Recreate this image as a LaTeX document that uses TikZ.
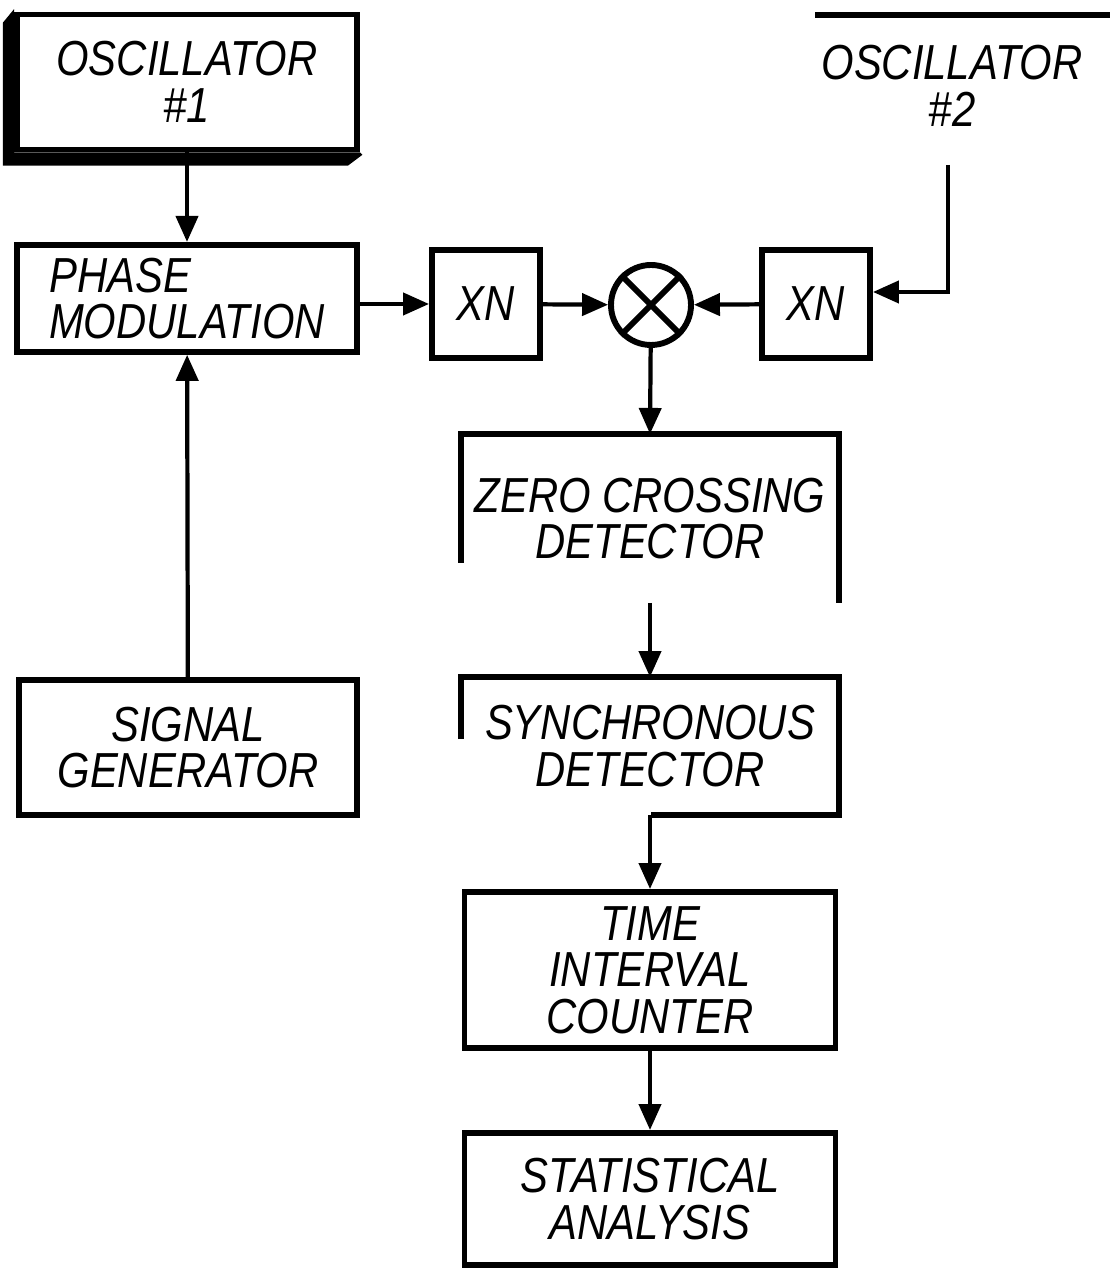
\documentclass[tikz,border=0pt]{standalone}
\usepackage{fontspec}
\setmainfont{Liberation Sans}[FakeStretch=0.85]
\usetikzlibrary{arrows.meta, positioning}

\begin{document}
\begin{tikzpicture}[
    box/.style={rectangle, draw, line width=4.2pt, align=center,
                font=\fontsize{35}{33}\selectfont\itshape, inner sep=0pt},
    mixer/.style={circle, draw, line width=4.2pt, minimum size=2cm, inner sep=0pt},
    arr/.style={-{Triangle[length=0.65cm, width=0.55cm]}, line width=3pt}
]
\useasboundingbox (0,0) rectangle (27.75,31.75);

% left column
\node[box, minimum width=8.5cm, minimum height=3.375cm] (osc1) at (4.675,29.7) {OSCILLATOR\\\#1};
\node[box, align=left, minimum width=8.5cm, minimum height=2.675cm] (phase) at (4.675,24.29) {PHASE\\MODULATION};
\node[box, minimum width=8.45cm, minimum height=3.375cm] (sig) at (4.7,13.06) {SIGNAL\\GENERATOR};

% shadow of oscillator 1
\fill ([yshift=0.06cm]osc1.north west) -- ([xshift=-0.28cm, yshift=-0.28cm]osc1.north west)
    -- ([xshift=-0.28cm, yshift=-0.33cm]osc1.south west) -- ([xshift=-0.3cm, yshift=-0.33cm]osc1.south east)
    -- ([xshift=0.06cm, yshift=-0.06cm]osc1.south east) -- (osc1.south east) -- (osc1.south west) -- cycle;

% multipliers and mixer
\node[box, minimum width=2.7cm, minimum height=2.7cm] (xn1) at (12.15,24.15) {XN};
\node[mixer] (mix) at (16.275,24.125) {};
\draw[line width=4.2pt] (mix.north west) -- (mix.south east);
\draw[line width=4.2pt] (mix.north east) -- (mix.south west);
\node[box, minimum width=2.7cm, minimum height=2.7cm] (xn2) at (20.4,24.15) {XN};

% oscillator 2
\node[box, draw=none] (osc2) at (23.8,29.6) {OSCILLATOR\\\#2};
\draw[line width=4.2pt] (20.375,31.375) -- (27.75,31.375);
\coordinate (o2out) at (23.7,27.625);

% right column
\node[box, draw=none, minimum width=9.3cm, minimum height=4.075cm] (zcd) at (16.25,18.79) {ZERO CROSSING\\DETECTOR};
\draw[line width=4.2pt] ([yshift=1cm]zcd.south west) -- (zcd.north west) -- (zcd.north east) -- (zcd.south east);
\node[box, draw=none, minimum width=9.3cm, minimum height=3.3cm] (sync) at (16.25,13.1) {SYNCHRONOUS\\DETECTOR};
\draw[line width=4.2pt] ([yshift=-1.55cm]sync.north west) -- (sync.north west) -- (sync.north east)
    -- (sync.south east) -- ([xshift=4.75cm]sync.south west);
\node[box, minimum width=9.275cm, minimum height=3.9cm] (tic) at (16.25,7.5) {TIME\\INTERVAL\\COUNTER};
\node[box, minimum width=9.275cm, minimum height=3.3cm] (stat) at (16.25,1.775) {STATISTICAL\\ANALYSIS};

\draw[arr] (osc1) -- (phase);
\draw[arr] (sig) -- (phase);
\draw[arr] (phase.east |- xn1) -- (xn1);
\draw[arr] (xn1) -- (mix);
\draw[arr] (xn2) -- (mix);
\draw[arr] (o2out) |- ([yshift=0.3cm]xn2.east);
\draw[arr] (mix) -- (zcd.north);
\draw[arr] (zcd.south) -- (sync.north);
\draw[arr] (sync.south) -- (tic.north);
\draw[arr] (tic) -- (stat);
\end{tikzpicture}
\end{document}
